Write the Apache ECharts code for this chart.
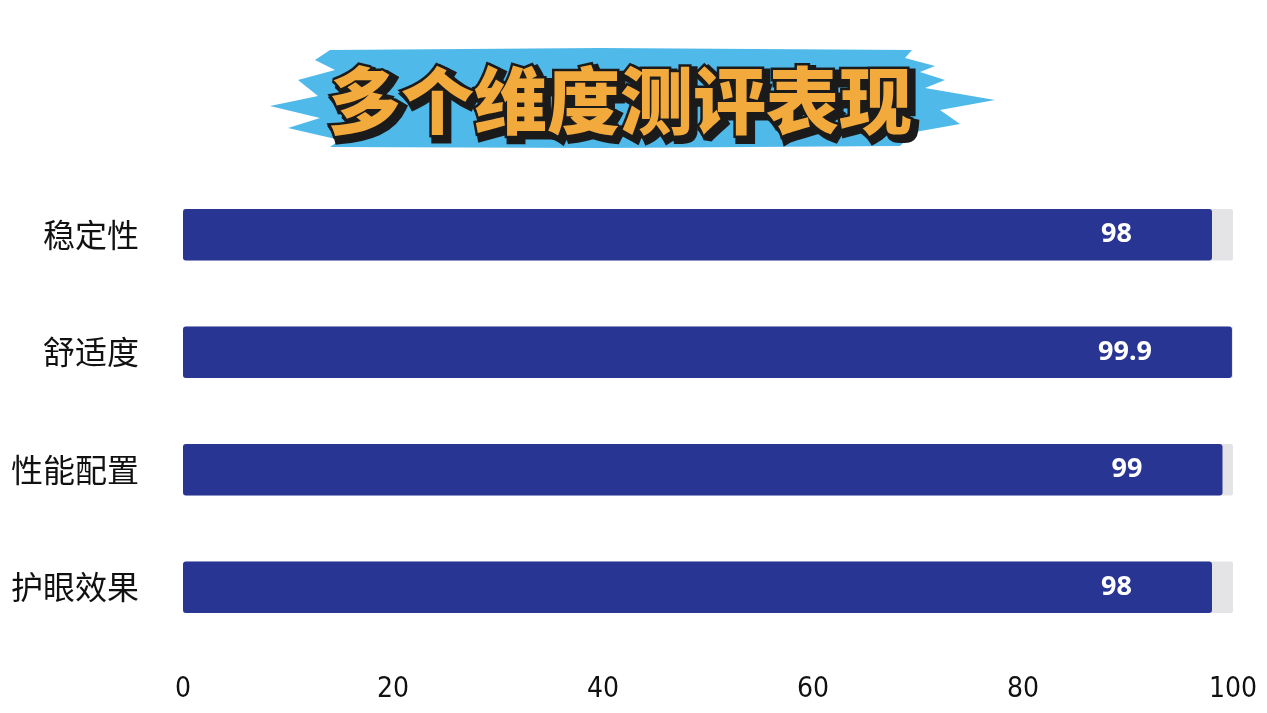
<!DOCTYPE html>
<html>
<head>
<meta charset="utf-8">
<script src="https://cdn.jsdelivr.net/npm/echarts@6/dist/echarts.min.js"></script>
<style>
html,body{margin:0;padding:0;background:#fff;}
#main{width:1267px;height:713px;}
</style>
</head>
<body>
<div id="main"></div>
<script>
const titleText = '多个维度测评表现';
const categories = ['稳定性', '舒适度', '性能配置', '护眼效果'];
const scores = [98, 99.9, 99, 98];
const fullScale = [100, 100, 100, 100];
const xTicks = [0, 20, 40, 60, 80, 100];

const chart = echarts.init(document.getElementById('main'));
chart.setOption({
  backgroundColor: '#ffffff',
  animation: false,
  grid: { left: 183, right: 34, top: 176, bottom: 67 },
  xAxis: {
    type: 'value', min: xTicks[0], max: xTicks[xTicks.length - 1], interval: 20,
    splitLine: { show: false }, axisLine: { show: false }, axisTick: { show: false },
    axisLabel: { color: '#111', fontSize: 28, fontFamily: '"Liberation Sans Narrow", "DejaVu Sans Condensed", sans-serif', margin: 30 }
  },
  yAxis: {
    type: 'category', data: categories, inverse: true,
    axisLine: { show: false }, axisTick: { show: false },
    axisLabel: { color: '#111', fontSize: 32, fontFamily: 'Noto Sans CJK SC', margin: 44 }
  },
  series: [
    {
      type: 'bar', data: fullScale, barWidth: '44%', barGap: '-100%', silent: true,
      itemStyle: { color: '#e4e4e6', borderRadius: 2 }, z: 1
    },
    {
      type: 'bar', data: scores, barWidth: '44%',
      itemStyle: { color: '#283593', borderRadius: 3 },
      label: {
        show: true, position: 'insideRight', distance: 80,
        color: '#fff', fontSize: 27, fontWeight: 'bold', fontFamily: 'Noto Sans, sans-serif'
      }, z: 2
    }
  ],
  graphic: [
    {
      type: 'polygon', z: 10,
      shape: { points: [
        [330, 50], [600, 48], [912, 50], [905, 58], [935, 66], [920, 72], [945, 80], [925, 88],
        [995, 100], [940, 110], [960, 124], [915, 132], [900, 146], [600, 148], [330, 147],
        [340, 140], [288, 128], [320, 118], [270, 106], [318, 96], [298, 80], [335, 70], [315, 60]
      ] },
      style: { fill: '#4fb9ea' }
    },
    {
      type: 'text', z: 11, x: 624, y: 104,
      style: { text: titleText, fill: '#1b1b1b', stroke: '#1b1b1b', lineWidth: 9,
        font: '900 73px "Noto Sans CJK SC"', textAlign: 'center', textVerticalAlign: 'middle' }
    },
    {
      type: 'text', z: 12, x: 620, y: 100,
      style: { text: titleText, fill: '#f2aa3c', stroke: '#1b1b1b', lineWidth: 5,
        font: '900 73px "Noto Sans CJK SC"', textAlign: 'center', textVerticalAlign: 'middle' }
    }
  ]
});
</script>
</body>
</html>
